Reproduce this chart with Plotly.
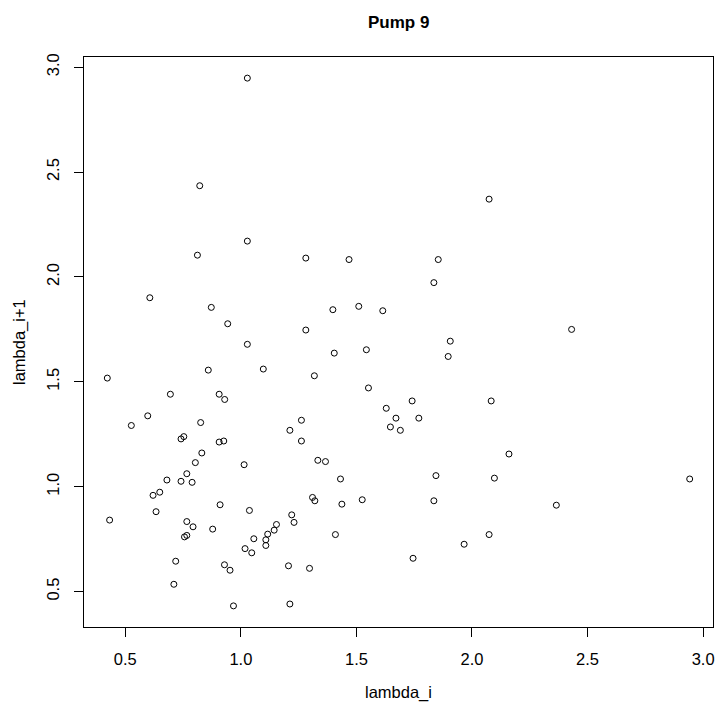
import plotly.graph_objects as go

# lag-plot data: lambda_i (x) vs lambda_i+1 (y)
lambda_i = [
    1.028, 0.822, 1.028, 0.812, 2.074, 0.606, 0.872, 0.943, 1.028, 0.422,
    0.859, 1.097, 0.695, 0.906, 0.930, 0.597, 0.526, 0.826, 0.741, 0.753,
    0.906, 0.926, 0.831, 1.281, 1.468, 1.854, 1.835, 1.398, 1.510, 1.614,
    1.281, 1.906, 1.897, 1.404, 1.543, 1.318, 1.552, 1.741, 2.083, 1.629,
    1.671, 1.770, 1.647, 1.690, 1.262, 1.212, 1.262, 2.431, 0.803, 1.014,
    0.766, 0.680, 0.741, 0.789, 0.649, 0.620, 0.910, 0.633, 1.037, 0.432,
    0.766, 0.793, 0.878, 0.766, 0.756, 1.056, 1.018, 1.047, 1.154, 1.144,
    1.116, 1.108, 1.108, 0.718, 0.929, 0.953, 0.710, 0.968, 1.333, 1.366,
    1.431, 1.310, 1.320, 1.437, 1.525, 1.220, 1.230, 1.409, 1.206, 1.297,
    1.212, 1.844, 1.835, 1.745, 1.966, 2.074, 2.097, 2.160, 2.942, 2.365,
]
lambda_next = [
    2.948, 2.435, 2.171, 2.104, 2.371, 1.901, 1.855, 1.777, 1.679, 1.518,
    1.556, 1.561, 1.441, 1.441, 1.416, 1.338, 1.292, 1.306, 1.228, 1.239,
    1.213, 1.218, 1.161, 2.090, 2.083, 2.083, 1.973, 1.844, 1.860, 1.839,
    1.747, 1.694, 1.621, 1.637, 1.653, 1.529, 1.471, 1.409, 1.409, 1.374,
    1.327, 1.327, 1.285, 1.269, 1.317, 1.269, 1.218, 1.750, 1.115, 1.105,
    1.062, 1.032, 1.026, 1.021, 0.974, 0.959, 0.914, 0.881, 0.887, 0.841,
    0.834, 0.809, 0.798, 0.768, 0.761, 0.752, 0.705, 0.685, 0.820, 0.793,
    0.774, 0.747, 0.720, 0.645, 0.628, 0.602, 0.535, 0.432, 1.126, 1.120,
    1.037, 0.949, 0.933, 0.917, 0.938, 0.866, 0.830, 0.772, 0.623, 0.611,
    0.441, 1.053, 0.933, 0.659, 0.726, 0.772, 1.041, 1.156, 1.037, 0.912,
]
tick_vals = [0.5, 1.0, 1.5, 2.0, 2.5, 3.0]
tick_text = ["0.5", "1.0", "1.5", "2.0", "2.5", "3.0"]
title_text = "Pump 9"
x_title = "lambda_i"
y_title = "lambda_i+1"


def padded(vals):
    lo, hi = min(vals), max(vals)
    d = (hi - lo) * 0.04
    return [lo - d, hi + d]


FONT = "Liberation Sans, Arial, sans-serif"

fig = go.Figure(
    go.Scatter(
        x=lambda_i,
        y=lambda_next,
        mode="markers",
        marker=dict(symbol="circle-open", size=6, color="black",
                    line=dict(width=1, color="black")),
        hoverinfo="skip",
    )
)

axis_common = dict(
    showgrid=False, zeroline=False, showline=True, linecolor="black",
    linewidth=1, mirror=True, ticks="outside", ticklen=9, tickwidth=1,
    tickcolor="black", tickvals=tick_vals, ticktext=tick_text,
    tickfont=dict(family=FONT, size=16.5, color="black"),
    automargin=False,
)

fig.update_layout(
    width=719, height=711,
    margin=dict(l=84, r=6, t=57, b=84),
    paper_bgcolor="white", plot_bgcolor="white",
    showlegend=False,
    xaxis=dict(range=padded(lambda_i), ticklabelstandoff=8, **axis_common),
    yaxis=dict(range=padded(lambda_next), tickangle=-90,
               ticklabelstandoff=8, **axis_common),
    annotations=[
        dict(text="<b>" + title_text + "</b>", xref="paper", yref="paper",
             x=0.5, y=1, yshift=35, xanchor="center", yanchor="middle",
             showarrow=False, font=dict(family=FONT, size=17, color="black")),
        dict(text=x_title, xref="paper", yref="paper", x=0.5, y=0,
             yshift=-65, xanchor="center", yanchor="middle", showarrow=False,
             font=dict(family=FONT, size=16.5, color="black")),
        dict(text=y_title, xref="paper", yref="paper", x=0, y=0.5,
             xshift=-65, xanchor="center", yanchor="middle", textangle=-90,
             showarrow=False, font=dict(family=FONT, size=16.5, color="black")),
    ],
)

# remove the default page margin so the 719x711 figure fills the window exactly
fig.write_html(
    "out.html",
    config={"displayModeBar": False, "staticPlot": True},
    post_script="document.body.style.margin='0';"
                "document.body.style.overflow='hidden';",
)
